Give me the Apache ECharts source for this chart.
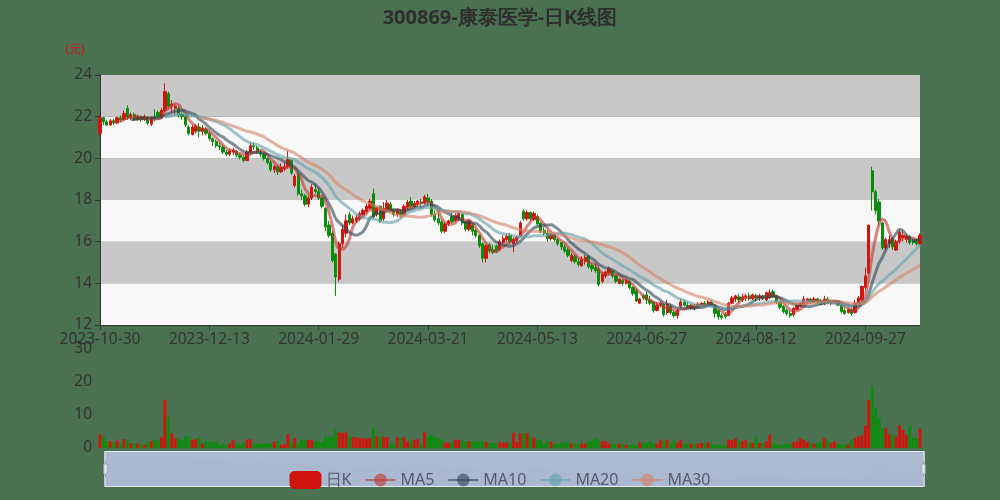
<!DOCTYPE html>
<html>
<head>
<meta charset="utf-8">
<script src="https://cdn.jsdelivr.net/npm/echarts@6/dist/echarts.min.js"></script>
<style>html,body{margin:0;padding:0;background:#4a7250;}#main{width:1000px;height:500px;}</style>
</head>
<body>
<div id="main"></div>
<script>
const titleText = '300869-康泰医学-日K线图';
const legendNames = ['日K', 'MA5', 'MA10', 'MA20', 'MA30'];
const dates = [
'2023-10-30','2023-10-31',
'2023-11-01','2023-11-02','2023-11-03','2023-11-06','2023-11-07','2023-11-08','2023-11-09','2023-11-10','2023-11-13','2023-11-14','2023-11-15','2023-11-16','2023-11-17','2023-11-20','2023-11-21','2023-11-22','2023-11-23','2023-11-24','2023-11-27','2023-11-28','2023-11-29','2023-11-30',
'2023-12-01','2023-12-04','2023-12-05','2023-12-06','2023-12-07','2023-12-08','2023-12-11','2023-12-12','2023-12-13','2023-12-14','2023-12-15','2023-12-18','2023-12-19','2023-12-20','2023-12-21','2023-12-22','2023-12-25','2023-12-26','2023-12-27','2023-12-28','2023-12-29',
'2024-01-02','2024-01-03','2024-01-04','2024-01-05','2024-01-08','2024-01-09','2024-01-10','2024-01-11','2024-01-12','2024-01-15','2024-01-16','2024-01-17','2024-01-18','2024-01-19','2024-01-22','2024-01-23','2024-01-24','2024-01-25','2024-01-26','2024-01-29','2024-01-30','2024-01-31',
'2024-02-01','2024-02-02','2024-02-05','2024-02-06','2024-02-07','2024-02-08','2024-02-19','2024-02-20','2024-02-21','2024-02-22','2024-02-23','2024-02-26','2024-02-27','2024-02-28','2024-02-29',
'2024-03-01','2024-03-04','2024-03-05','2024-03-06','2024-03-07','2024-03-08','2024-03-11','2024-03-12','2024-03-13','2024-03-14','2024-03-15','2024-03-18','2024-03-19','2024-03-20','2024-03-21','2024-03-22','2024-03-25','2024-03-26','2024-03-27','2024-03-28','2024-03-29',
'2024-04-01','2024-04-02','2024-04-03','2024-04-08','2024-04-09','2024-04-10','2024-04-11','2024-04-12','2024-04-15','2024-04-16','2024-04-17','2024-04-18','2024-04-19','2024-04-22','2024-04-23','2024-04-24','2024-04-25','2024-04-26','2024-04-29','2024-04-30',
'2024-05-06','2024-05-07','2024-05-08','2024-05-09','2024-05-10','2024-05-13','2024-05-14','2024-05-15','2024-05-16','2024-05-17','2024-05-20','2024-05-21','2024-05-22','2024-05-23','2024-05-24','2024-05-27','2024-05-28','2024-05-29','2024-05-30','2024-05-31',
'2024-06-03','2024-06-04','2024-06-05','2024-06-06','2024-06-07','2024-06-11','2024-06-12','2024-06-13','2024-06-14','2024-06-17','2024-06-18','2024-06-19','2024-06-20','2024-06-21','2024-06-24','2024-06-25','2024-06-26','2024-06-27','2024-06-28',
'2024-07-01','2024-07-02','2024-07-03','2024-07-04','2024-07-05','2024-07-08','2024-07-09','2024-07-10','2024-07-11','2024-07-12','2024-07-15','2024-07-16','2024-07-17','2024-07-18','2024-07-19','2024-07-22','2024-07-23','2024-07-24','2024-07-25','2024-07-26','2024-07-29','2024-07-30','2024-07-31',
'2024-08-01','2024-08-02','2024-08-05','2024-08-06','2024-08-07','2024-08-08','2024-08-09','2024-08-12','2024-08-13','2024-08-14','2024-08-15','2024-08-16','2024-08-19','2024-08-20','2024-08-21','2024-08-22','2024-08-23','2024-08-26','2024-08-27','2024-08-28','2024-08-29','2024-08-30',
'2024-09-02','2024-09-03','2024-09-04','2024-09-05','2024-09-06','2024-09-09','2024-09-10','2024-09-11','2024-09-12','2024-09-13','2024-09-18','2024-09-19','2024-09-20','2024-09-23','2024-09-24','2024-09-25','2024-09-26','2024-09-27','2024-09-30',
'2024-10-08','2024-10-09','2024-10-10','2024-10-11','2024-10-14','2024-10-15','2024-10-16','2024-10-17','2024-10-18','2024-10-21','2024-10-22','2024-10-23','2024-10-24','2024-10-25','2024-10-28'
];
// [open, close, low, high]
const kData = [
[21.2,21.95,21.1,22.1],[21.95,21.75,21.6,22.0],[21.75,21.6,21.55,21.85],[21.6,21.8,21.55,21.9],[21.8,21.7,21.6,21.9],
[21.7,21.95,21.65,22.0],[21.95,21.85,21.75,22.05],[21.85,22.15,21.8,22.3],[22.4,21.95,21.85,22.55],[21.95,22.1,21.85,22.2],
[22.1,21.85,21.8,22.2],[21.85,22.0,21.8,22.1],[22.0,21.85,21.75,22.05],[21.85,22.0,21.8,22.1],[21.95,21.7,21.6,22.0],
[21.65,21.95,21.55,22.0],[22.0,21.9,21.8,22.35],[22.2,22.0,21.9,22.3],[22.0,22.3,21.95,22.4],[22.3,23.2,22.2,23.6],
[23.1,22.5,22.4,23.2],[22.5,22.6,22.2,22.8],[22.4,22.5,22.1,22.6],[22.4,22.1,21.95,22.5],[22.1,22.0,21.85,22.2],
[22.0,21.6,21.5,22.05],[21.5,21.2,21.1,21.6],[21.15,21.5,21.1,21.6],[21.3,21.55,21.2,21.65],[21.5,21.3,21.0,21.7],
[21.3,21.45,21.1,21.6],[21.4,21.2,21.1,21.5],[21.2,20.95,20.85,21.3],[20.95,20.8,20.6,21.0],[20.8,20.6,20.5,20.9],
[20.6,20.55,20.4,20.75],[20.55,20.3,20.2,20.65],[20.3,20.2,20.1,20.4],[20.2,20.35,20.1,20.45],[20.3,20.4,20.15,20.5],
[20.35,20.15,20.05,20.4],[20.15,20.05,19.95,20.25],[20.05,19.9,19.8,20.1],[19.9,20.3,19.85,20.4],[20.3,20.6,20.2,20.75],
[20.6,20.55,20.4,20.75],[20.5,20.3,20.2,20.6],[20.3,20.2,20.05,20.4],[20.2,20.0,19.9,20.3],[20.0,19.8,19.7,20.05],
[19.8,19.45,19.35,19.9],[19.45,19.6,19.3,19.7],[19.6,19.35,19.2,19.65],[19.35,19.55,19.3,19.75],[19.5,19.6,19.4,19.8],
[19.6,19.95,19.5,20.35],[19.9,19.3,19.2,19.95],[18.7,19.15,18.6,19.25],[19.25,18.3,18.2,19.3],[18.3,18.2,18.0,18.5],
[18.2,17.8,17.7,18.3],[17.8,18.1,17.65,18.2],[18.1,18.6,18.0,18.75],[18.5,18.4,18.3,18.8],[18.4,18.1,18.0,18.6],
[18.1,17.7,17.6,18.15],[17.6,16.7,16.5,17.65],[16.8,16.3,16.2,17.0],[16.4,15.1,15.0,16.5],[15.4,14.3,13.4,15.45],
[14.2,15.9,14.1,16.0],[15.9,16.6,15.7,16.8],[16.4,17.0,16.2,17.3],[17.3,16.9,16.8,17.45],[16.9,17.1,16.85,17.25],
[17.0,17.15,16.9,17.3],[17.1,17.35,17.0,17.45],[17.3,17.5,17.2,17.6],[17.45,17.7,17.35,17.8],[17.6,17.95,17.55,18.05],
[18.3,17.2,17.1,18.55],[17.3,17.65,17.2,17.7],[17.7,17.0,16.9,17.75],[17.1,17.6,17.0,17.9],[17.5,17.85,17.45,18.0],
[17.8,17.5,17.4,17.9],[17.55,17.3,17.2,17.6],[17.3,17.5,17.2,17.55],[17.4,17.3,17.15,17.55],[17.3,17.7,17.25,17.8],
[17.65,17.9,17.55,18.0],[17.95,17.7,17.6,18.15],[17.7,17.85,17.6,17.95],[17.8,17.95,17.7,18.0],[17.9,17.85,17.7,18.05],
[17.85,18.15,17.8,18.25],[18.1,17.9,17.8,18.3],[17.95,17.3,17.2,18.05],[17.3,17.05,16.95,17.5],[17.1,16.9,16.8,17.5],
[16.95,16.5,16.4,17.05],[16.5,16.85,16.4,16.95],[16.85,17.0,16.75,17.05],[17.2,16.95,16.9,17.4],[17.0,17.25,16.95,17.35],
[17.1,17.35,17.0,17.45],[17.3,16.9,16.8,17.35],[16.95,16.6,16.5,17.0],[16.6,17.0,16.5,17.1],[16.8,16.5,16.3,16.85],
[16.55,16.3,16.2,16.6],[16.3,15.8,15.7,16.35],[15.9,15.2,15.0,15.95],[15.2,15.8,15.0,15.9],[15.85,15.55,15.45,15.95],
[15.6,15.5,15.4,15.85],[15.8,15.55,15.45,15.85],[15.6,16.0,15.55,16.1],[15.95,16.15,15.85,16.3],[16.1,16.25,16.0,16.4],
[16.3,16.0,15.85,16.4],[15.9,16.1,15.5,16.2],[16.05,16.2,15.95,16.3],[16.3,16.9,16.25,17.0],[17.45,17.1,17.0,17.55],
[17.1,17.4,17.0,17.5],[17.4,17.1,17.0,17.45],[17.05,17.35,17.0,17.45],[17.2,16.85,16.75,17.3],[16.9,16.5,16.4,16.95],
[16.55,16.4,16.3,16.7],[16.4,16.15,16.0,16.55],[16.15,16.35,16.05,16.4],[16.35,16.1,16.0,16.4],[16.1,15.9,15.8,16.15],
[15.95,15.75,15.6,16.0],[15.75,15.55,15.45,15.85],[15.6,15.35,15.25,15.7],[15.1,15.35,15.0,15.45],[15.3,15.05,14.95,15.4],
[15.05,14.9,14.8,15.2],[14.85,15.15,14.8,15.3],[15.05,15.25,14.9,15.35],[15.3,14.8,14.7,15.35],[14.85,14.7,14.55,14.95],
[14.75,14.6,14.5,14.95],[14.7,13.95,13.85,14.8],[14.1,14.45,14.0,14.55],[14.35,14.55,14.25,14.6],[14.5,14.7,14.4,14.8],
[14.6,14.35,14.25,14.65],[14.35,14.1,14.0,14.4],[14.0,14.2,13.95,14.25],[14.15,14.0,13.9,14.2],[14.0,14.15,13.95,14.2],
[14.1,13.8,13.7,14.15],[13.8,13.5,13.4,13.85],[13.65,13.15,13.1,13.75],[13.05,13.25,13.0,13.3],[13.4,13.3,13.2,13.5],
[13.45,13.2,13.0,13.6],[13.2,13.05,12.95,13.4],[13.1,12.7,12.6,13.15],[12.7,12.95,12.65,13.1],[12.95,13.05,12.85,13.15],
[13.0,12.5,12.4,13.05],[12.6,13.0,12.5,13.2],[12.9,12.6,12.5,13.0],[12.6,12.45,12.35,12.7],[12.45,12.7,12.3,12.8],
[12.9,13.1,12.85,13.25],[13.1,12.95,12.9,13.2],[12.95,12.85,12.8,13.1],[12.8,12.95,12.75,13.0],[12.9,12.8,12.7,13.0],
[12.85,13.0,12.8,13.1],[12.95,13.05,12.85,13.1],[13.05,12.9,12.85,13.15],[12.95,13.1,12.9,13.2],[13.1,12.95,12.9,13.2],
[12.95,12.55,12.35,13.0],[12.7,12.4,12.25,12.75],[12.45,12.35,12.25,12.55],[12.5,12.4,12.3,12.6],[12.45,13.05,12.45,13.1],
[13.05,13.3,13.0,13.4],[13.25,13.4,13.1,13.45],[13.35,13.2,13.05,13.5],[13.2,13.35,13.1,13.5],[13.3,13.4,13.15,13.5],
[13.4,13.25,13.15,13.55],[13.25,13.45,13.2,13.5],[13.4,13.3,13.15,13.5],[13.3,13.4,13.15,13.5],[13.4,13.25,13.2,13.45],
[13.2,13.55,13.15,13.6],[13.3,13.55,13.25,13.7],[13.6,13.35,13.3,13.7],[13.4,13.1,13.0,13.45],[13.1,12.85,12.75,13.15],
[12.9,12.65,12.55,12.95],[12.7,12.55,12.45,12.8],[12.55,12.45,12.35,12.7],[12.5,12.8,12.4,12.85],[12.75,12.95,12.7,13.0],
[12.9,13.05,12.85,13.1],[13.0,13.25,12.95,13.4],[13.15,13.25,13.05,13.3],[13.25,13.1,13.0,13.3],[13.1,13.25,13.05,13.35],
[13.25,13.1,13.0,13.3],[13.15,13.0,12.95,13.25],[13.0,13.25,12.95,13.4],[13.25,13.05,13.0,13.35],[13.05,13.1,12.95,13.2],
[13.1,13.15,13.0,13.2],[13.15,12.95,12.9,13.2],[12.95,12.65,12.55,13.0],[12.7,12.55,12.5,12.8],[12.6,12.75,12.55,12.8],
[12.75,12.55,12.45,12.8],[12.6,13.05,12.55,13.2],[13.0,13.3,12.95,13.4],[13.2,13.85,13.1,13.9],[13.8,14.35,13.7,14.75],
[14.5,16.8,14.4,16.8],[19.4,18.4,17.5,19.6],[18.4,17.5,17.3,18.5],[17.9,17.0,16.8,18.05],[16.9,15.7,15.6,16.95],
[15.7,16.1,15.6,16.2],[15.9,16.1,15.7,16.3],[16.1,15.75,15.6,16.2],[15.6,16.0,15.55,16.1],[16.0,16.45,15.9,16.55],
[16.2,16.3,16.0,16.5],[16.1,16.25,15.95,16.35],[16.25,15.95,15.85,16.3],[16.05,15.95,15.85,16.15],[16.1,15.9,15.8,16.15],
[15.9,16.3,15.85,16.4]
];
const volumes = [
4.2,3.5,2.0,2.1,1.8,2.3,1.5,2.7,2.5,1.5,
1.3,1.3,1.2,1.0,2.0,2.2,2.5,2.3,3.3,14.6,
9.4,4.5,3.0,3.0,2.3,3.5,3.5,2.5,2.8,3.3,
1.3,2.2,2.0,1.8,2.0,1.0,1.2,1.0,1.3,2.5,
1.5,1.0,1.8,2.5,2.7,1.3,1.2,1.5,1.3,1.4,
1.3,2.0,2.2,1.0,1.2,4.2,2.0,3.0,1.5,2.5,
2.6,2.4,2.5,2.0,2.0,1.8,3.5,3.3,3.6,5.5,
4.7,4.6,4.7,3.5,3.3,3.2,3.0,3.1,2.8,3.0,
6.0,3.5,3.5,3.4,3.3,1.3,1.3,3.3,3.0,3.3,
2.0,2.3,2.5,2.7,1.5,4.7,3.5,4.0,3.5,3.0,
2.5,1.7,1.6,1.8,2.5,2.5,2.3,2.0,2.0,2.0,
2.0,2.0,2.2,1.8,1.5,1.5,1.3,1.7,1.6,1.7,
1.5,4.7,1.8,4.5,4.5,4.5,3.5,3.2,2.5,2.5,
1.3,2.0,2.0,1.3,1.2,1.5,1.7,1.7,1.3,1.4,
1.2,1.3,1.3,2.0,2.5,3.0,2.2,2.0,2.0,1.3,
1.3,1.2,1.3,1.2,1.0,1.0,1.2,0.9,1.7,1.6,
1.5,2.0,1.3,1.3,2.5,2.3,2.5,1.5,2.3,1.6,
2.5,1.3,1.2,1.3,1.2,1.3,1.6,1.5,1.7,1.2,
1.0,0.9,1.0,0.9,2.5,2.4,3.0,2.5,2.0,2.5,
1.5,1.5,3.5,1.5,1.5,2.0,4.0,1.5,1.2,1.0,
1.0,1.3,1.2,1.8,2.0,3.0,2.5,1.8,1.5,1.3,
1.5,2.0,3.0,2.5,1.5,2.0,1.2,1.0,1.2,1.0,
2.5,3.0,3.5,4.0,6.8,14.6,18.9,12.1,9.1,6.0,
6.0,4.0,4.0,3.5,6.8,5.5,4.0,6.8,3.0,3.0,
5.8
];
const priceTicks = [12, 14, 16, 18, 20, 22, 24];
const volumeTicks = [0, 10, 20, 30];
const maDays = [5, 10, 20, 30];

const upColor = '#d0140e';
const downColor = '#0c8c0c';
const maColors = ['#c23531', '#2f4554', '#61a0a8', '#d48265'];

function calcMA(n) {
  const out = [];
  for (let i = 0; i < kData.length; i++) {
    if (i < n - 1) { out.push('-'); continue; }
    let s = 0;
    for (let j = 0; j < n; j++) s += kData[i - j][1];
    out.push(+(s / n).toFixed(3));
  }
  return out;
}

const volData = volumes.map((v, i) => ({
  value: v,
  itemStyle: { color: kData[i][1] >= kData[i][0] ? upColor : downColor }
}));

const chart = echarts.init(document.getElementById('main'));
const font = 'Noto Sans, sans-serif';
const maSeries = maDays.map((d, k) => ({
  name: legendNames[k + 1],
  type: 'line',
  data: calcMA(d),
  smooth: true,
  symbol: 'circle',
  showSymbol: false,
  xAxisIndex: 0, yAxisIndex: 0,
  itemStyle: { color: maColors[k], opacity: 0.6 },
  lineStyle: { width: 3, opacity: 0.6, color: maColors[k] },
  z: 3
}));

chart.setOption({
  animation: false,
  backgroundColor: '#4a7250',
  title: {
    text: titleText, left: 'center', top: 3,
    textStyle: { color: '#2e2e2e', fontSize: 20, fontWeight: 'bold', fontFamily: font }
  },
  legend: {
    data: legendNames, bottom: 6, left: 'center', z: 20,
    itemWidth: 30, itemHeight: 16, itemGap: 13,
    textStyle: { color: '#555b6a', fontSize: 16, fontFamily: font }
  },
  grid: [
    { left: 100, right: 80, top: 75, height: 250 },
    { left: 100, right: 80, top: 349, height: 99 }
  ],
  xAxis: [
    {
      type: 'category', data: dates, gridIndex: 0, boundaryGap: false,
      axisLine: { lineStyle: { color: '#333' } },
      axisTick: { interval: 31, lineStyle: { color: '#333' } },
      axisLabel: { interval: 31, color: '#333', fontSize: 15.5, fontFamily: font, margin: 7 },
      splitLine: { show: false }
    },
    {
      type: 'category', data: dates, gridIndex: 1, boundaryGap: false,
      axisLine: { show: false }, axisTick: { show: false }, axisLabel: { show: false },
      splitLine: { show: false }
    }
  ],
  yAxis: [
    {
      type: 'value', gridIndex: 0,
      min: priceTicks[0], max: priceTicks[priceTicks.length - 1], interval: 2,
      name: '(元)', nameLocation: 'end', nameGap: 19,
      nameTextStyle: { color: '#d81010', fontSize: 12, align: 'center', padding: [0, 50, 0, 0], fontFamily: font },
      axisLine: { show: true, lineStyle: { color: '#333' } },
      axisTick: { show: true, lineStyle: { color: '#333' } },
      axisLabel: { color: '#333', fontSize: 15.5, fontFamily: font },
      splitLine: { show: false },
      splitArea: { show: true, areaStyle: { color: ['#f8f8f8', '#c8c8c8'] } }
    },
    {
      type: 'value', gridIndex: 1,
      min: volumeTicks[0], max: volumeTicks[volumeTicks.length - 1], interval: 10,
      axisLine: { show: false }, axisTick: { show: false },
      axisLabel: { color: '#333', fontSize: 15.5, fontFamily: font },
      splitLine: { show: false }
    }
  ],
  dataZoom: [
    { type: 'inside', xAxisIndex: [0, 1], start: 0, end: 100 },
    {
      type: 'slider', xAxisIndex: [0, 1], start: 0, end: 100,
      left: 102, right: 78, top: 451, height: 36,
      showDetail: false, z: 4,
      backgroundColor: 'rgba(180,192,214,1)',
      fillerColor: 'rgba(170,184,208,0.9)',
      borderColor: '#e4e8f0',
      moveHandleSize: 0,
      handleSize: '45%',
      handleStyle: { color: '#e8ecf3', borderColor: '#9aa6bb' },
      dataBackground: { lineStyle: { color: '#8797b3', width: 1 }, areaStyle: { color: 'rgba(130,148,180,0.3)' } },
      selectedDataBackground: { lineStyle: { color: '#8797b3', width: 1 }, areaStyle: { color: 'rgba(130,148,180,0.3)' } }
    }
  ],
  series: [
    {
      name: legendNames[0], type: 'candlestick', data: kData,
      xAxisIndex: 0, yAxisIndex: 0, barWidth: '80%',
      itemStyle: { color: upColor, color0: downColor, borderColor: upColor, borderColor0: downColor }
    },
    ...maSeries,
    {
      name: 'Volume', type: 'bar', data: volData,
      xAxisIndex: 1, yAxisIndex: 1, barCategoryGap: '15%'
    }
  ]
});
</script>
</body>
</html>
